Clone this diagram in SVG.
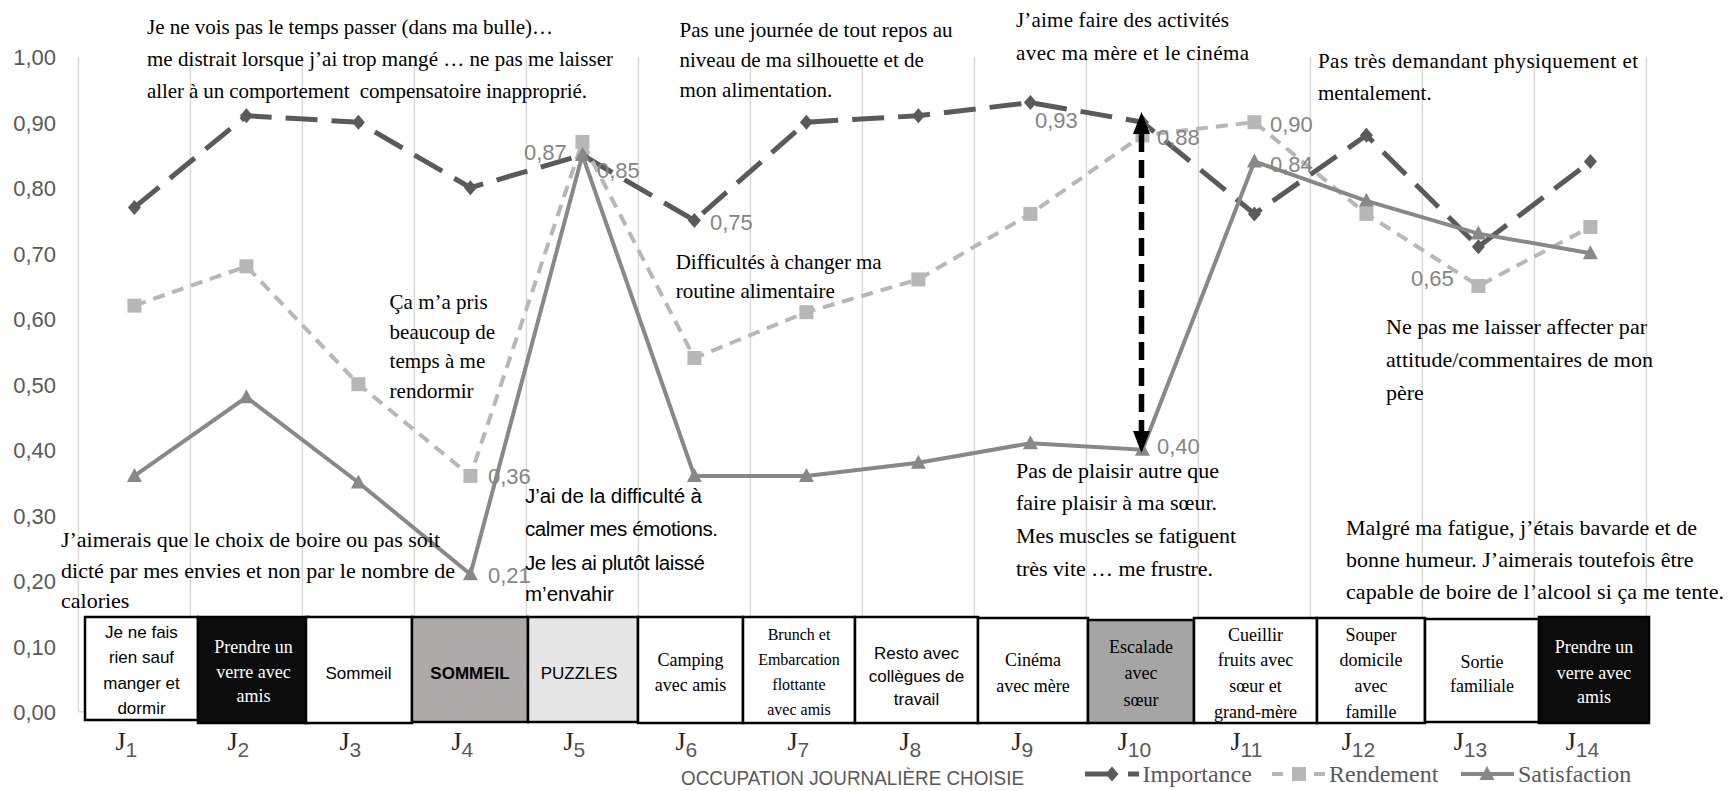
<svg xmlns="http://www.w3.org/2000/svg" width="1736" height="791" viewBox="0 0 1736 791">
<style>
.grid{stroke:#d9d9d9;stroke-width:1.5}
.ax{font-family:"Liberation Sans",Arial,sans-serif;font-size:22px;fill:#595959;text-anchor:end}
.dl{font-family:"Liberation Sans",Arial,sans-serif;font-size:22px;fill:#858585}
.ann{font-family:"Liberation Serif","Times New Roman",serif;font-size:21px;fill:#000}
.ann22{font-family:"Liberation Serif","Times New Roman",serif;font-size:22px;fill:#000}
.anns{font-family:"Liberation Sans",Arial,sans-serif;font-size:20.5px;fill:#000}
.imp{fill:none;stroke:#5a5a5a;stroke-width:5;stroke-dasharray:32 14}
.ren{fill:none;stroke:#b7b7b7;stroke-width:4;stroke-dasharray:12 8}
.sat{fill:none;stroke:#888888;stroke-width:4}
.box{stroke:#000;stroke-width:2.5}
.bs{font-family:"Liberation Sans",Arial,sans-serif;font-size:17px;text-anchor:middle;fill:#000}
.bt{font-family:"Liberation Serif","Times New Roman",serif;font-size:18px;text-anchor:middle;fill:#000}
.jl{font-family:"Liberation Serif","Times New Roman",serif;font-size:26px;fill:#262626;text-anchor:middle}
.sub{font-family:"Liberation Sans",Arial,sans-serif;font-size:21px;fill:#595959}
.leg{font-family:"Liberation Serif","Times New Roman",serif;font-size:24px;fill:#595959}
.mi{fill:#5a5a5a}.mr{fill:#b7b7b7}.ms{fill:#888888}
</style>
<defs>
<path id="dia" d="M0,-7.5 L6.5,0 L0,7.5 L-6.5,0 Z"/>
<rect id="sq" x="-7" y="-7" width="14" height="14"/>
<path id="tri" d="M0,-8 L7.5,6 L-7.5,6 Z"/>
<marker id="ah" markerWidth="22" markerHeight="17" refX="0" refY="8.5" orient="auto-start-reverse" markerUnits="userSpaceOnUse" viewBox="0 0 22 17"><path d="M0,0 L22,8.5 L0,17 Z" fill="#000"/></marker>
</defs>
<rect width="1736" height="791" fill="#fff"/>

<g id="gridlines">
<line class="grid" x1="78.4" y1="56.7" x2="78.4" y2="711.7"/>
<line class="grid" x1="190.4" y1="56.7" x2="190.4" y2="711.7"/>
<line class="grid" x1="302.4" y1="56.7" x2="302.4" y2="711.7"/>
<line class="grid" x1="414.4" y1="56.7" x2="414.4" y2="711.7"/>
<line class="grid" x1="526.4" y1="56.7" x2="526.4" y2="711.7"/>
<line class="grid" x1="638.4" y1="56.7" x2="638.4" y2="711.7"/>
<line class="grid" x1="750.4" y1="56.7" x2="750.4" y2="711.7"/>
<line class="grid" x1="862.4" y1="56.7" x2="862.4" y2="711.7"/>
<line class="grid" x1="974.4" y1="56.7" x2="974.4" y2="711.7"/>
<line class="grid" x1="1086.4" y1="56.7" x2="1086.4" y2="711.7"/>
<line class="grid" x1="1198.4" y1="56.7" x2="1198.4" y2="711.7"/>
<line class="grid" x1="1310.4" y1="56.7" x2="1310.4" y2="711.7"/>
<line class="grid" x1="1422.4" y1="56.7" x2="1422.4" y2="711.7"/>
<line class="grid" x1="1534.4" y1="56.7" x2="1534.4" y2="711.7"/>
<line class="grid" x1="1646.4" y1="56.7" x2="1646.4" y2="711.7"/>
<line class="grid" x1="78.4" y1="711.7" x2="1646.4" y2="711.7"/>
</g>

<g id="y-axis">
<text class="ax" x="56" y="65">1,00</text>
<text class="ax" x="56" y="130.5">0,90</text>
<text class="ax" x="56" y="196">0,80</text>
<text class="ax" x="56" y="261.5">0,70</text>
<text class="ax" x="56" y="327">0,60</text>
<text class="ax" x="56" y="392.5">0,50</text>
<text class="ax" x="56" y="458">0,40</text>
<text class="ax" x="56" y="523.5">0,30</text>
<text class="ax" x="56" y="589">0,20</text>
<text class="ax" x="56" y="654.5">0,10</text>
<text class="ax" x="56" y="720">0,00</text>
</g>

<g id="series-importance">
<polyline class="imp" points="134.4,207.4 246.4,115.7 358.4,122.2 470.4,187.7 582.4,155 694.4,220.5 806.4,122.2 918.4,115.7 1030.4,102.6 1142.4,122.2 1254.4,213.9 1366.4,135.3 1478.4,246.7 1590.4,161.5"/>
<g class="mi">
<use href="#dia" x="134.4" y="207.4"/><use href="#dia" x="246.4" y="115.7"/><use href="#dia" x="358.4" y="122.2"/><use href="#dia" x="470.4" y="187.7"/><use href="#dia" x="582.4" y="155"/><use href="#dia" x="694.4" y="220.5"/><use href="#dia" x="806.4" y="122.2"/><use href="#dia" x="918.4" y="115.7"/><use href="#dia" x="1030.4" y="102.6"/><use href="#dia" x="1142.4" y="122.2"/><use href="#dia" x="1254.4" y="213.9"/><use href="#dia" x="1366.4" y="135.3"/><use href="#dia" x="1478.4" y="246.7"/><use href="#dia" x="1590.4" y="161.5"/>
</g>
</g>

<g id="series-rendement">
<polyline class="ren" points="134.4,305.6 246.4,266.3 358.4,384.2 470.4,475.9 582.4,141.9 694.4,358 806.4,312.2 918.4,279.4 1030.4,213.9 1142.4,135.3 1254.4,122.2 1366.4,213.9 1478.4,286 1590.4,227"/>
<g class="mr">
<use href="#sq" x="134.4" y="305.6"/><use href="#sq" x="246.4" y="266.3"/><use href="#sq" x="358.4" y="384.2"/><use href="#sq" x="470.4" y="475.9"/><use href="#sq" x="582.4" y="141.9"/><use href="#sq" x="694.4" y="358"/><use href="#sq" x="806.4" y="312.2"/><use href="#sq" x="918.4" y="279.4"/><use href="#sq" x="1030.4" y="213.9"/><use href="#sq" x="1142.4" y="135.3"/><use href="#sq" x="1254.4" y="122.2"/><use href="#sq" x="1366.4" y="213.9"/><use href="#sq" x="1478.4" y="286"/><use href="#sq" x="1590.4" y="227"/>
</g>
</g>

<g id="series-satisfaction">
<polyline class="sat" points="134.4,475.9 246.4,397.3 358.4,482.5 470.4,574.2 582.4,155 694.4,475.9 806.4,475.9 918.4,462.8 1030.4,443.2 1142.4,449.7 1254.4,161.5 1366.4,200.8 1478.4,233.6 1590.4,253.2"/>
<g class="ms">
<use href="#tri" x="134.4" y="475.9"/><use href="#tri" x="246.4" y="397.3"/><use href="#tri" x="358.4" y="482.5"/><use href="#tri" x="470.4" y="574.2"/><use href="#tri" x="582.4" y="155"/><use href="#tri" x="694.4" y="475.9"/><use href="#tri" x="806.4" y="475.9"/><use href="#tri" x="918.4" y="462.8"/><use href="#tri" x="1030.4" y="443.2"/><use href="#tri" x="1142.4" y="449.7"/><use href="#tri" x="1254.4" y="161.5"/><use href="#tri" x="1366.4" y="200.8"/><use href="#tri" x="1478.4" y="233.6"/><use href="#tri" x="1590.4" y="253.2"/>
</g>
</g>

<g id="data-labels">
<text class="dl" x="524" y="160">0,87</text>
<text class="dl" x="597" y="178">0,85</text>
<text class="dl" x="710" y="230">0,75</text>
<text class="dl" x="1035" y="128">0,93</text>
<text class="dl" x="1157" y="145">0,88</text>
<text class="dl" x="1270" y="132">0,90</text>
<text class="dl" x="1270" y="172">0,84</text>
<text class="dl" x="1411" y="286">0,65</text>
<text class="dl" x="488" y="484">0,36</text>
<text class="dl" x="488" y="583">0,21</text>
<text class="dl" x="1157" y="454">0,40</text>
</g>

<g id="connectors">
<line x1="1141.5" y1="134" x2="1141.5" y2="431" stroke="#000" stroke-width="5.5" stroke-dasharray="18 8" marker-start="url(#ah)" marker-end="url(#ah)"/>
</g>

<g id="annotations">
<text class="ann"><tspan x="147" y="34" textLength="406">Je ne vois pas le temps passer (dans ma bulle)…</tspan><tspan x="147" y="66" textLength="466">me distrait lorsque j’ai trop mangé … ne pas me laisser</tspan><tspan x="147" y="98" textLength="440" style="white-space:pre">aller à un comportement  compensatoire inapproprié.</tspan></text>
<text class="ann"><tspan x="679.5" y="37" textLength="273">Pas une journée de tout repos au</tspan><tspan x="679.5" y="67">niveau de ma silhouette et de</tspan><tspan x="679.5" y="97">mon alimentation.</tspan></text>
<text class="ann"><tspan x="1016" y="27" textLength="213">J’aime faire des activités</tspan><tspan x="1016" y="60" textLength="233">avec ma mère et le cinéma</tspan></text>
<text class="ann"><tspan x="1318" y="68" textLength="320">Pas très demandant physiquement et</tspan><tspan x="1318" y="100">mentalement.</tspan></text>
<text class="ann"><tspan x="389.6" y="309">Ça m’a pris</tspan><tspan x="389.6" y="339">beaucoup de</tspan><tspan x="389.6" y="368">temps à me</tspan><tspan x="389.6" y="398">rendormir</tspan></text>
<text class="ann"><tspan x="675.7" y="269" textLength="206">Difficultés à changer ma</tspan><tspan x="675.7" y="298">routine alimentaire</tspan></text>
<text class="anns"><tspan x="525" y="503" textLength="177">J’ai de la difficulté à</tspan><tspan x="525" y="536" textLength="193">calmer mes émotions.</tspan><tspan x="525" y="570" textLength="180">Je les ai plutôt laissé</tspan><tspan x="525" y="601">m’envahir</tspan></text>
<text class="ann22"><tspan x="1016" y="478" textLength="203">Pas de plaisir autre que</tspan><tspan x="1016" y="510" textLength="201">faire plaisir à ma sœur.</tspan><tspan x="1016" y="543" textLength="220">Mes muscles se fatiguent</tspan><tspan x="1016" y="576" textLength="197">très vite … me frustre.</tspan></text>
<text class="ann22"><tspan x="1386" y="334" textLength="261">Ne pas me laisser affecter par</tspan><tspan x="1386" y="367" textLength="267">attitude/commentaires de mon</tspan><tspan x="1386" y="400">père</tspan></text>
<text class="ann22"><tspan x="1346" y="535" textLength="351">Malgré ma fatigue, j’étais bavarde et de</tspan><tspan x="1346" y="567">bonne humeur. J’aimerais toutefois être</tspan><tspan x="1346" y="599" textLength="378">capable de boire de l’alcool si ça me tente.</tspan></text>
<text class="ann22"><tspan x="61" y="547" textLength="379">J’aimerais que le choix de boire ou pas soit</tspan><tspan x="61" y="578" textLength="394">dicté par mes envies et non par le nombre de</tspan><tspan x="61" y="608">calories</tspan></text>
</g>

<g id="box-J1"><rect class="box" x="85" y="617" width="113" height="103" fill="#fff"/><text class="bs"><tspan x="141.5" y="638">Je ne fais</tspan><tspan x="141.5" y="663">rien sauf</tspan><tspan x="141.5" y="689">manger et</tspan><tspan x="141.5" y="714">dormir</tspan></text></g>
<g id="box-J2"><rect class="box" x="198" y="617" width="111" height="106" fill="#0c0c0c"/><text class="bt" style="fill:#fff"><tspan x="253.5" y="653">Prendre un</tspan><tspan x="253.5" y="678">verre avec</tspan><tspan x="253.5" y="702">amis</tspan></text></g>
<g id="box-J3"><rect class="box" x="306" y="617" width="106" height="106" fill="#fff"/><text class="bs" x="358.5" y="679">Sommeil</text></g>
<g id="box-J4"><rect class="box" x="412" y="617" width="116" height="105" fill="#aeaaaa"/><text class="bs" x="470" y="679" font-weight="bold">SOMMEIL</text></g>
<g id="box-J5"><rect class="box" x="528" y="617" width="110" height="105" fill="#e7e6e6"/><text class="bs" x="579" y="679">PUZZLES</text></g>
<g id="box-J6"><rect class="box" x="638" y="617" width="105" height="106" fill="#fff"/><text class="bt"><tspan x="690.5" y="666">Camping</tspan><tspan x="690.5" y="691">avec amis</tspan></text></g>
<g id="box-J7"><rect class="box" x="743" y="617" width="112" height="106" fill="#fff"/><text class="bt" style="font-size:16px"><tspan x="799" y="640">Brunch et</tspan><tspan x="799" y="665">Embarcation</tspan><tspan x="799" y="690">flottante</tspan><tspan x="799" y="715">avec amis</tspan></text></g>
<g id="box-J8"><rect class="box" x="855" y="617" width="123" height="106" fill="#fff"/><text class="bs"><tspan x="916.5" y="659">Resto avec</tspan><tspan x="916.5" y="682">collègues de</tspan><tspan x="916.5" y="705">travail</tspan></text></g>
<g id="box-J9"><rect class="box" x="978" y="618" width="110" height="105" fill="#fff"/><text class="bt"><tspan x="1033" y="666">Cinéma</tspan><tspan x="1033" y="692">avec mère</tspan></text></g>
<g id="box-J10"><rect class="box" x="1088" y="620" width="106" height="103" fill="#a5a5a5"/><text class="bt"><tspan x="1141" y="653">Escalade</tspan><tspan x="1141" y="679">avec</tspan><tspan x="1141" y="706">sœur</tspan></text></g>
<g id="box-J11"><rect class="box" x="1194" y="618" width="123" height="105" fill="#fff"/><text class="bt"><tspan x="1255.5" y="641">Cueillir</tspan><tspan x="1255.5" y="666">fruits avec</tspan><tspan x="1255.5" y="692">sœur et</tspan><tspan x="1255.5" y="718">grand-mère</tspan></text></g>
<g id="box-J12"><rect class="box" x="1317" y="618" width="108" height="105" fill="#fff"/><text class="bt"><tspan x="1371" y="641">Souper</tspan><tspan x="1371" y="666">domicile</tspan><tspan x="1371" y="692">avec</tspan><tspan x="1371" y="718">famille</tspan></text></g>
<g id="box-J13"><rect class="box" x="1425" y="619" width="114" height="103" fill="#fff"/><text class="bt"><tspan x="1482" y="668">Sortie</tspan><tspan x="1482" y="692">familiale</tspan></text></g>
<g id="box-J14"><rect class="box" x="1539" y="617" width="110" height="106" fill="#0c0c0c"/><text class="bt" style="fill:#fff"><tspan x="1594" y="653">Prendre un</tspan><tspan x="1594" y="679">verre avec</tspan><tspan x="1594" y="703">amis</tspan></text></g>

<g id="x-labels">
<text class="jl" x="126.4" y="750">J<tspan class="sub" dy="7">1</tspan></text>
<text class="jl" x="238.4" y="750">J<tspan class="sub" dy="7">2</tspan></text>
<text class="jl" x="350.4" y="750">J<tspan class="sub" dy="7">3</tspan></text>
<text class="jl" x="462.4" y="750">J<tspan class="sub" dy="7">4</tspan></text>
<text class="jl" x="574.4" y="750">J<tspan class="sub" dy="7">5</tspan></text>
<text class="jl" x="686.4" y="750">J<tspan class="sub" dy="7">6</tspan></text>
<text class="jl" x="798.4" y="750">J<tspan class="sub" dy="7">7</tspan></text>
<text class="jl" x="910.4" y="750">J<tspan class="sub" dy="7">8</tspan></text>
<text class="jl" x="1022.4" y="750">J<tspan class="sub" dy="7">9</tspan></text>
<text class="jl" x="1134.4" y="750">J<tspan class="sub" dy="7">10</tspan></text>
<text class="jl" x="1246.4" y="750">J<tspan class="sub" dy="7">11</tspan></text>
<text class="jl" x="1358.4" y="750">J<tspan class="sub" dy="7">12</tspan></text>
<text class="jl" x="1470.4" y="750">J<tspan class="sub" dy="7">13</tspan></text>
<text class="jl" x="1582.4" y="750">J<tspan class="sub" dy="7">14</tspan></text>
<text x="681" y="785" font-family="'Liberation Sans',Arial,sans-serif" font-size="21" fill="#595959" textLength="343" lengthAdjust="spacingAndGlyphs">OCCUPATION JOURNALIÈRE CHOISIE</text>
</g>

<g id="legend">
<path d="M1085,774 H1139" fill="none" stroke="#5a5a5a" stroke-width="5" stroke-dasharray="26 17 11 100"/>
<use href="#dia" x="1112" y="774" class="mi"/>
<text class="leg" x="1142.6" y="782">Importance</text>
<path d="M1272,774 H1326" fill="none" stroke="#b7b7b7" stroke-width="4" stroke-dasharray="11 10"/>
<use href="#sq" x="1299" y="774" class="mr"/>
<text class="leg" x="1329" y="782">Rendement</text>
<path d="M1461,774 H1514" fill="none" stroke="#888888" stroke-width="4"/>
<use href="#tri" x="1487" y="774" class="ms"/>
<text class="leg" x="1518" y="782">Satisfaction</text>
</g>
</svg>
